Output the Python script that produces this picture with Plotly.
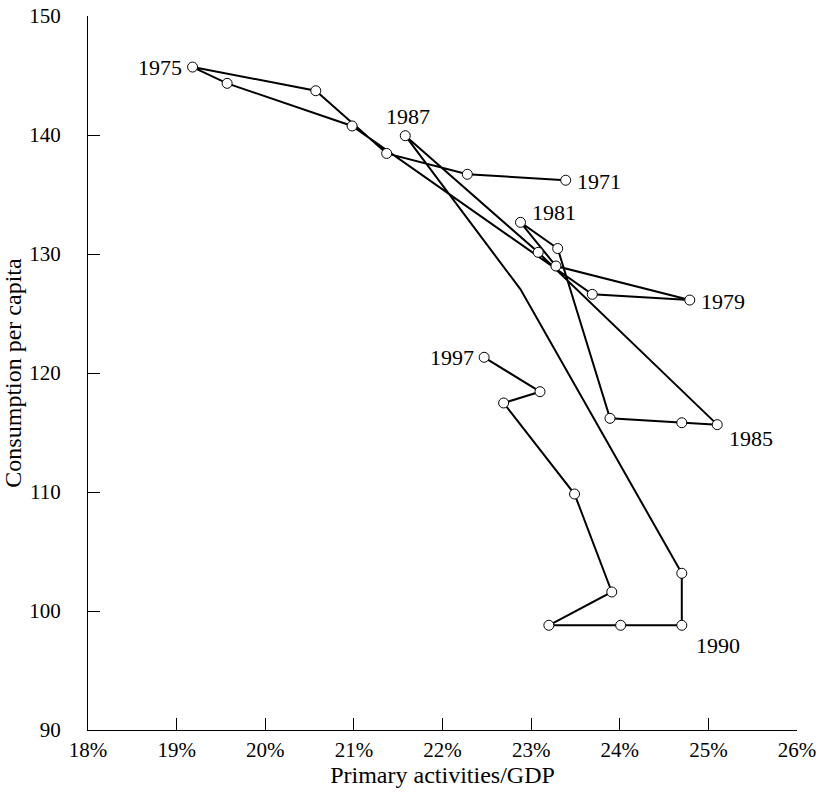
import plotly.graph_objects as go

years = list(range(1971, 1998))
primary_share = [23.39, 22.28, 21.37, 20.57, 19.18, 19.57, 20.98, 23.69, 24.79, 23.28,
                 22.88, 23.30, 23.89, 24.70, 25.10, 23.08, 21.58, 22.88, 24.70, 24.70,
                 24.01, 23.20, 23.91, 23.49, 22.69, 23.10, 22.47]
consumption = [136.2, 136.7, 138.45, 143.72, 145.71, 144.34, 140.76, 126.61, 126.13, 128.99,
               132.66, 130.46, 116.19, 115.82, 115.66, 130.14, 139.94, 127.03, 103.17, 98.80,
               98.80, 98.80, 101.60, 109.83, 117.48, 118.43, 121.32]
# year 1988 has no marker in the original
has_marker = [y != 1988 for y in years]

label_years = [1975, 1971, 1987, 1981, 1979, 1997, 1985, 1990]

x_ticks = [18, 19, 20, 21, 22, 23, 24, 25, 26]
y_ticks = [90, 100, 110, 120, 130, 140, 150]

FONT = "Liberation Serif"

# label placement: (xanchor, xshift, yshift)
placement = {
    1975: ("right", -9, 0),
    1971: ("left", 9, -1),
    1987: ("center", 3, 19),
    1981: ("left", 10, 10),
    1979: ("left", 9, -1),
    1997: ("right", -8, 0),
    1985: ("left", 10, -14),
    1990: ("left", 12, -20),
}

fig = go.Figure()
fig.add_trace(go.Scatter(
    x=primary_share, y=consumption, mode="lines",
    line=dict(color="black", width=2), hoverinfo="skip", showlegend=False))

mx = [x for x, m in zip(primary_share, has_marker) if m]
my = [y for y, m in zip(consumption, has_marker) if m]
fig.add_trace(go.Scatter(
    x=mx, y=my, mode="markers",
    marker=dict(size=10, color="white", line=dict(color="black", width=1)),
    showlegend=False))

for yr in label_years:
    i = years.index(yr)
    xa, xs, ys = placement[yr]
    fig.add_annotation(x=primary_share[i], y=consumption[i], text=str(yr),
                       showarrow=False, xanchor=xa, yanchor="middle",
                       xshift=xs, yshift=ys,
                       font=dict(family=FONT, size=22, color="black"))

fig.update_layout(
    width=823, height=797,
    margin=dict(l=88, r=26, t=16, b=67),
    paper_bgcolor="white", plot_bgcolor="white",
    font=dict(family=FONT, size=21, color="black"),
    xaxis=dict(range=[18, 26], tickvals=x_ticks, ticktext=[f"{v}%" for v in x_ticks],
               showgrid=False, zeroline=False, showline=True, linecolor="black", linewidth=1,
               ticks="inside", ticklen=12, tickcolor="black", tickwidth=1, automargin=False,
               tickfont=dict(family=FONT, size=21),
               title=dict(text="Primary activities/GDP", font=dict(family=FONT, size=24), standoff=4),
               ticklabelstandoff=1),
    yaxis=dict(range=[90, 150], tickvals=y_ticks,
               showgrid=False, zeroline=False, showline=True, linecolor="black", linewidth=1,
               ticks="inside", ticklen=12, tickcolor="black", tickwidth=1, automargin=False,
               tickfont=dict(family=FONT, size=21),
               title=dict(text="Consumption per capita", font=dict(family=FONT, size=24), standoff=6),
               ticklabelstandoff=22),
)

fig.write_html("out.html")
